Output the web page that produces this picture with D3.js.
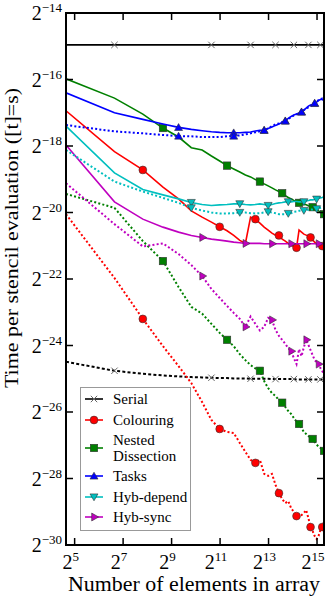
<!DOCTYPE html>
<html>
<head>
<meta charset="utf-8">
<script src="https://cdn.jsdelivr.net/npm/d3@7"></script>
<style>
  body { margin: 0; background: #fff; }
  svg text { font-family: "Liberation Serif", "DejaVu Serif", serif; fill: #000; }
</style>
</head>
<body>
<svg id="chart" width="332" height="598" font-family="Liberation Serif, DejaVu Serif, serif"></svg>
<script>
// number of elements in array (x)
let elements = [25, 100, 225, 400, 625, 900, 1225, 1600, 2025, 2500, 3025, 3600, 4225, 4900,
  5625, 6400, 7225, 8100, 9025, 10000, 11025, 12100, 13225, 14400, 15625, 16900, 18225,
  19600, 21025, 22500, 24025, 25600, 27225, 28900, 30625, 32400, 34225, 36100, 38025, 40000]

// log2 of time per stencil evaluation
let serialSolid = [-14.96, -14.96, -14.96, -14.96, -14.96, -14.96, -14.96, -14.96, -14.96, -14.96,
  -14.96, -14.96, -14.96, -14.96, -14.96, -14.96, -14.96, -14.96, -14.96, -14.96,
  -14.96, -14.96, -14.96, -14.96, -14.96, -14.96, -14.96, -14.96, -14.96, -14.96,
  -14.96, -14.96, -14.96, -14.96, -14.96, -14.96, -14.96, -14.96, -14.96, -14.96]
let serialDotted = [-24.49, -24.76, -24.85, -24.90, -24.93, -24.95, -24.96, -24.97, -24.98, -24.98,
  -24.99, -24.99, -24.99, -25.00, -25.00, -25.00, -25.00, -25.00, -25.01, -25.01,
  -25.01, -25.01, -25.01, -25.01, -25.01, -25.01, -25.02, -25.02, -25.02, -25.02,
  -25.02, -25.02, -25.02, -25.02, -25.02, -25.02, -25.02, -25.02, -25.02, -25.02]
let colouringSolid = [-16.94, -18.17, -18.72, -19.24, -19.59, -19.95, -20.14, -20.29, -20.43, -20.55,
  -20.69, -20.84, -20.93, -20.14, -20.20, -20.32, -20.44, -20.53, -20.62, -20.68,
  -20.69, -20.80, -20.86, -20.93, -20.99, -21.02, -21.06, -20.53, -20.59, -20.65,
  -20.68, -20.71, -20.75, -20.83, -20.89, -20.95, -20.98, -20.99, -21.01, -21.02]
let colouringDotted = [-20.05, -21.97, -23.20, -24.02, -24.62, -25.13, -25.70, -26.24, -26.51, -26.60,
  -26.63, -26.93, -27.20, -27.44, -27.53, -27.44, -27.86, -27.92, -27.86, -28.19,
  -28.44, -28.62, -28.74, -28.68, -28.89, -29.01, -29.13, -29.13, -29.10, -29.04,
  -28.95, -29.19, -29.46, -29.58, -29.73, -29.82, -29.73, -29.55, -29.46, -29.31]
let nestedSolid = [-15.98, -16.56, -17.04, -17.46, -17.73, -18.05, -18.12, -18.30, -18.45, -18.59,
  -18.69, -18.78, -18.87, -18.93, -19.01, -19.07, -19.14, -19.20, -19.26, -19.32,
  -19.37, -19.42, -19.49, -19.55, -19.59, -19.64, -19.67, -19.71, -19.73, -19.75,
  -19.77, -19.80, -19.82, -19.84, -19.88, -19.91, -19.95, -19.98, -20.02, -20.05]
let nestedDotted = [-19.44, -19.86, -20.86, -21.46, -22.24, -22.84, -23.04, -23.35, -23.62, -23.83,
  -24.02, -24.26, -24.44, -24.59, -24.69, -24.76, -25.07, -25.28, -25.43, -25.52,
  -25.64, -25.72, -25.85, -25.97, -26.06, -26.18, -26.29, -26.36, -26.48, -26.60,
  -26.66, -26.72, -26.77, -26.81, -26.90, -26.98, -27.04, -27.08, -27.13, -27.17]
let tasksSolid = [-16.40, -17.00, -17.20, -17.34, -17.44, -17.50, -17.54, -17.57, -17.59, -17.60,
  -17.60, -17.60, -17.59, -17.58, -17.55, -17.53, -17.52, -17.47, -17.43, -17.38,
  -17.34, -17.29, -17.24, -17.17, -17.11, -17.07, -17.04, -17.01, -16.97, -16.92,
  -16.86, -16.80, -16.77, -16.75, -16.72, -16.68, -16.63, -16.60, -16.60, -16.63]
let tasksDotted = [-17.37, -17.56, -17.62, -17.67, -17.70, -17.71, -17.73, -17.73, -17.73, -17.71,
  -17.70, -17.68, -17.65, -17.62, -17.59, -17.56, -17.53, -17.47, -17.40, -17.35,
  -17.32, -17.28, -17.25, -17.19, -17.13, -17.08, -17.05, -17.02, -16.98, -16.92,
  -16.87, -16.84, -16.80, -16.75, -16.71, -16.66, -16.62, -16.59, -16.57, -16.59]
let hybDependSolid = [-17.40, -18.81, -19.31, -19.47, -19.59, -19.70, -19.76, -19.79, -19.77, -19.76,
  -19.74, -19.74, -19.76, -19.77, -19.76, -19.74, -19.76, -19.79, -19.76, -19.73,
  -19.71, -19.70, -19.68, -19.68, -19.68, -19.67, -19.67, -19.68, -19.68, -19.68,
  -19.65, -19.64, -19.62, -19.62, -19.61, -19.60, -19.58, -19.56, -19.55, -19.53]
let hybDependDotted = [-18.12, -19.07, -19.37, -19.56, -19.71, -19.86, -19.94, -20.00, -20.03, -20.03,
  -20.02, -20.00, -20.00, -20.02, -20.03, -20.02, -20.00, -19.98, -20.00, -20.02,
  -20.05, -20.05, -20.05, -20.03, -20.02, -19.98, -19.97, -19.95, -19.95, -19.94,
  -19.92, -19.92, -19.91, -19.91, -19.89, -19.89, -19.88, -19.86, -19.85, -19.83]
let hybSyncSolid = [-17.97, -19.68, -20.20, -20.44, -20.59, -20.69, -20.75, -20.80, -20.83, -20.86,
  -20.89, -20.91, -20.93, -20.93, -20.93, -20.93, -20.94, -20.94, -20.94, -20.94,
  -20.94, -20.94, -20.94, -20.94, -20.94, -20.94, -20.94, -20.94, -20.94, -20.94,
  -20.94, -20.94, -20.94, -20.94, -20.94, -20.94, -20.94, -20.94, -20.94, -20.94]
let hybSyncDotted = [-19.12, -20.35, -21.02, -20.93, -21.25, -21.58, -21.91, -22.30, -22.57, -22.81,
  -23.02, -23.20, -23.44, -23.13, -23.35, -23.55, -23.44, -23.17, -23.23, -23.53,
  -23.71, -23.83, -23.95, -24.08, -24.17, -24.38, -24.56, -24.11, -24.32, -24.05,
  -23.83, -23.98, -24.14, -24.29, -24.44, -24.50, -24.56, -24.68, -24.77, -24.86]

let names = ['Serial', 'Colouring', 'Nested\nDissection', 'Tasks', 'Hyb-depend', 'Hyb-sync']
let colors = ['#000000', '#ff0000', '#008000', '#0000ff', '#00bfbf', '#bf00bf']
let shapes = ['x', 'circle', 'square', 'triangleUp', 'triangleDown', 'triangleRight']
let solidValues = [serialSolid, colouringSolid, nestedSolid, tasksSolid, hybDependSolid, hybSyncSolid]
let dottedValues = [serialDotted, colouringDotted, nestedDotted, tasksDotted, hybDependDotted, hybSyncDotted]

let xTicks = [5, 7, 9, 11, 13, 15]
let yTicks = [-30, -28, -26, -24, -22, -20, -18, -16, -14]

let svg = d3.select('#chart')
let plotLeft = 66, plotRight = 324, plotTop = 13, plotBottom = 545

let x = d3.scaleLog().base(2).domain([25, 40000]).range([plotLeft, plotRight])
let y = d3.scaleLog().base(2).domain([Math.pow(2, -30), Math.pow(2, -14)]).range([plotBottom, plotTop])

svg.append('clipPath').attr('id', 'plotclip')
  .append('rect').attr('x', plotLeft).attr('y', plotTop)
  .attr('width', plotRight - plotLeft).attr('height', plotBottom - plotTop)

let plot = svg.append('g').attr('clip-path', 'url(#plotclip)')

let line = d3.line()
  .x((d) => x(d[0]))
  .y((d) => y(Math.pow(2, d[1])))

let drawMarker = (g, shape, color, cx, cy) => {
  if (shape === 'x') {
    let s = 3.2
    g.append('path')
      .attr('d', `M${cx - s},${cy - s}L${cx + s},${cy + s}M${cx - s},${cy + s}L${cx + s},${cy - s}`)
      .attr('stroke', '#666').attr('stroke-width', 1).attr('fill', 'none')
    return
  }
  let p
  if (shape === 'circle') {
    p = g.append('circle').attr('cx', cx).attr('cy', cy).attr('r', 3.9)
  } else if (shape === 'square') {
    p = g.append('rect').attr('x', cx - 3.7).attr('y', cy - 3.7).attr('width', 7.4).attr('height', 7.4)
  } else {
    let r = 4.6
    let angle = {triangleUp: -90, triangleDown: 90, triangleRight: 0}[shape] * Math.PI / 180
    let shift = shape === 'triangleUp' ? 0.8 : shape === 'triangleDown' ? -0.8 : 0
    let pts = [0, 1, 2].map((i) => {
      let a = angle + i * 2 * Math.PI / 3
      return [cx + r * Math.cos(a), cy + r * Math.sin(a) + shift]
    })
    p = g.append('path').attr('d', 'M' + pts.map((q) => q.join(',')).join('L') + 'Z')
  }
  p.attr('fill', color).attr('stroke', '#333').attr('stroke-width', 0.6)
}

let drawSeries = (values, i, dotted) => {
  let pts = elements.map((n, j) => [n, values[j]])
  plot.append('path')
    .datum(pts)
    .attr('d', line)
    .attr('fill', 'none')
    .attr('stroke', colors[i])
    .attr('stroke-width', dotted ? 2 : 1.6)
    .attr('stroke-dasharray', dotted ? (i === 0 ? '3,2.2' : '2,2.2') : null)
  let mg = plot.append('g')
  pts.forEach((d, j) => {
    if (j >= i + 1 && (j - (i + 1)) % 6 === 0) {
      drawMarker(mg, shapes[i], colors[i], x(d[0]), y(Math.pow(2, d[1])))
    }
  })
}

solidValues.forEach((v, i) => drawSeries(v, i, false))
dottedValues.forEach((v, i) => drawSeries(v, i, true))

// ticks pointing inwards on all four sides
let tickG = svg.append('g').attr('stroke', '#000').attr('stroke-width', 1.5)
xTicks.forEach((e) => {
  let px = x(Math.pow(2, e))
  tickG.append('line').attr('x1', px).attr('x2', px).attr('y1', plotBottom).attr('y2', plotBottom - 7)
  tickG.append('line').attr('x1', px).attr('x2', px).attr('y1', plotTop).attr('y2', plotTop + 7)
})
yTicks.forEach((e) => {
  let py = y(Math.pow(2, e))
  tickG.append('line').attr('x1', plotLeft).attr('x2', plotLeft + 7).attr('y1', py).attr('y2', py)
  tickG.append('line').attr('x1', plotRight).attr('x2', plotRight - 7).attr('y1', py).attr('y2', py)
})

svg.append('rect')
  .attr('x', plotLeft).attr('y', plotTop)
  .attr('width', plotRight - plotLeft).attr('height', plotBottom - plotTop)
  .attr('fill', 'none').attr('stroke', '#000').attr('stroke-width', 2)

// tick labels
xTicks.forEach((e) => {
  let t = svg.append('text')
    .attr('x', x(Math.pow(2, e)) - 4).attr('y', 569)
    .attr('text-anchor', 'middle').style('font-size', '20px')
  t.append('tspan').text('2')
  t.append('tspan').attr('dy', -8).style('font-size', '13px').text(e)
})
yTicks.forEach((e) => {
  let t = svg.append('text')
    .attr('x', 62).attr('y', y(Math.pow(2, e)) + 7)
    .attr('text-anchor', 'end').style('font-size', '20px')
  t.append('tspan').text('2')
  t.append('tspan').attr('dy', -8).style('font-size', '13px').text('\u2212' + (-e))
})

svg.append('text')
  .attr('x', 194).attr('y', 591)
  .attr('text-anchor', 'middle').style('font-size', '20px')
  .attr('textLength', 252).attr('lengthAdjust', 'spacingAndGlyphs')
  .text('Number of elements in array')

svg.append('text')
  .attr('transform', 'translate(18,238) rotate(-90)')
  .attr('text-anchor', 'middle').style('font-size', '19px')
  .attr('textLength', 300).attr('lengthAdjust', 'spacingAndGlyphs')
  .text('Time per stencil evaluation ([t]=s)')

// legend
let legend = svg.append('g')
legend.append('rect')
  .attr('x', 80.5).attr('y', 387.5).attr('width', 110).attr('height', 143)
  .attr('fill', '#fff').attr('stroke', '#999').attr('stroke-width', 1)
let rowY = [399, 420, 448, 476, 497, 517]
names.forEach((name, i) => {
  let ry = rowY[i]
  legend.append('line')
    .attr('x1', 85).attr('x2', 103).attr('y1', ry).attr('y2', ry)
    .attr('stroke', colors[i]).attr('stroke-width', 1.6)
  drawMarker(legend, shapes[i], colors[i], 94, ry)
  let lines = name.split('\n')
  let t = legend.append('text')
    .attr('x', 113).attr('y', ry + 5 - (lines.length - 1) * 8)
    .style('font-size', '15px')
    .style('font-family', '"Liberation Serif", "DejaVu Serif", serif')
  lines.forEach((s, k) => {
    t.append('tspan').attr('x', 113).attr('dy', k === 0 ? 0 : 16).text(s)
  })
})
</script>
</body>
</html>
